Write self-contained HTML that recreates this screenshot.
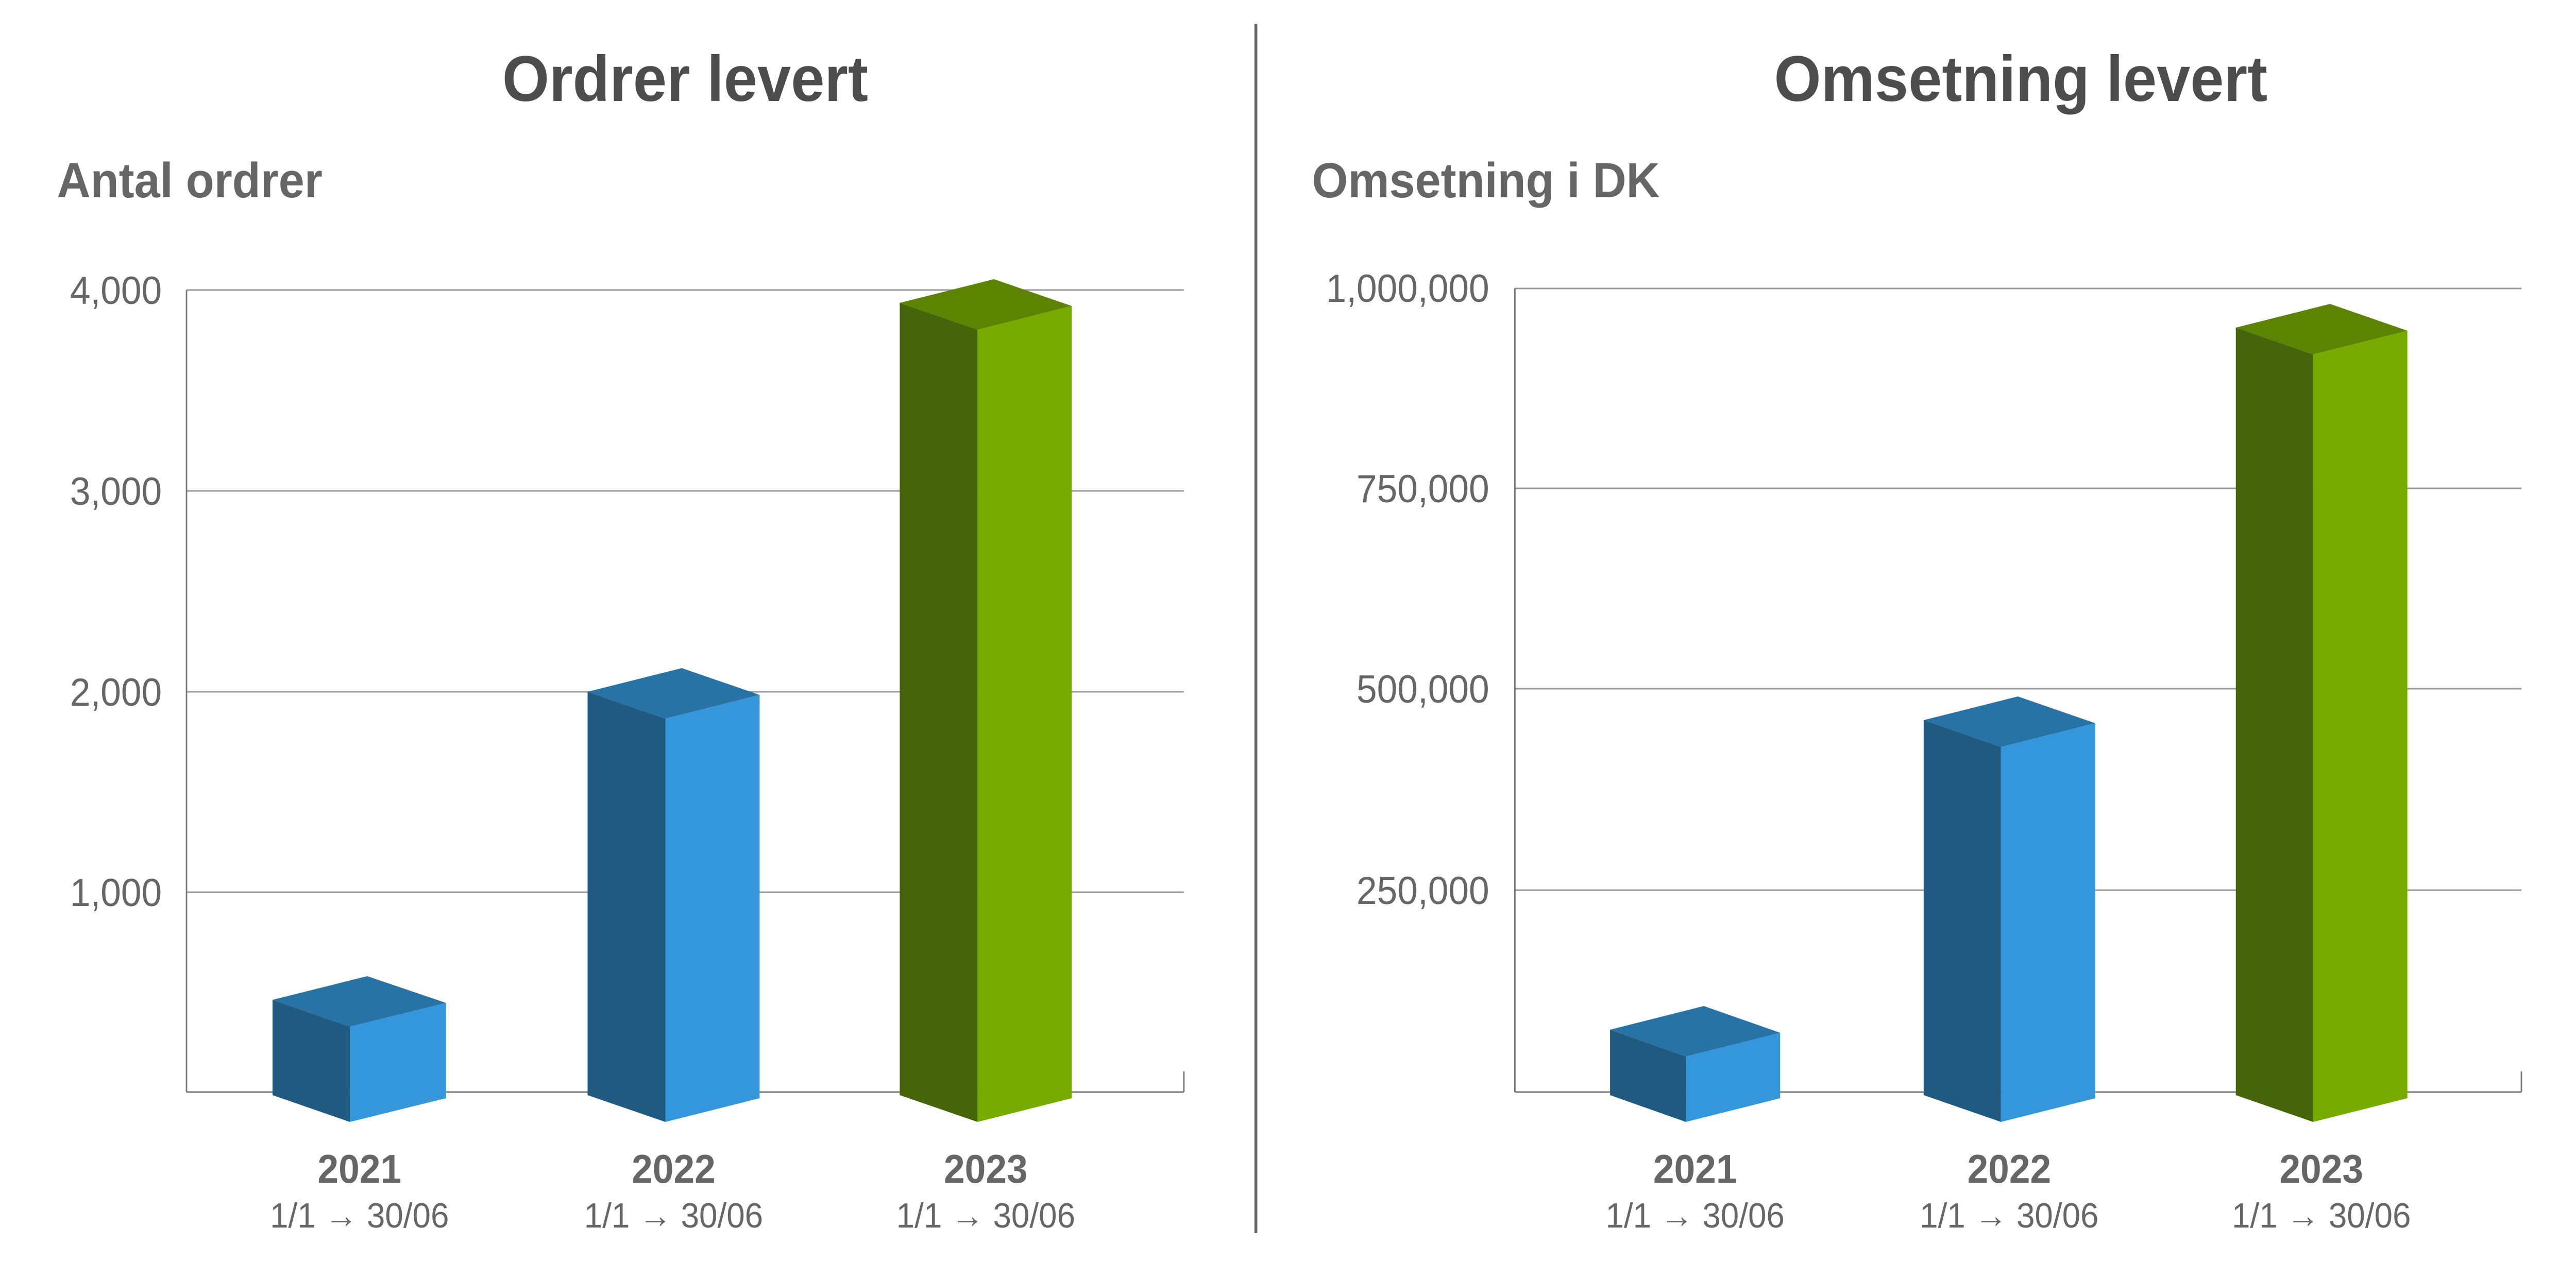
<!DOCTYPE html>
<html><head><meta charset="utf-8"><style>
html,body{margin:0;padding:0;background:#fff;width:100%;height:100%;overflow:hidden;}
svg{display:block;width:100vw;height:100vh;}
text{font-family:"Liberation Sans","DejaVu Sans",sans-serif;fill:#666;}
</style></head><body>
<svg viewBox="0 0 5331 2481" preserveAspectRatio="none" xmlns="http://www.w3.org/2000/svg">
<rect x="2596" y="46" width="6" height="2348" fill="#666"/>

<text x="1418" y="196" font-size="125" font-weight="bold" text-anchor="middle" style="fill:#4d4d4d">Ordrer levert</text>
<text x="4182" y="196" font-size="125" font-weight="bold" text-anchor="middle" style="fill:#4d4d4d">Omsetning levert</text>
<text x="118" y="383" font-size="96" font-weight="bold">Antal ordrer</text>
<text x="2715" y="383" font-size="96" font-weight="bold">Omsetning i DK</text>

<g stroke="#999" stroke-width="3">
<line x1="386" y1="563" x2="2450" y2="563"/>
<line x1="386" y1="953" x2="2450" y2="953"/>
<line x1="386" y1="1343" x2="2450" y2="1343"/>
<line x1="386" y1="1732" x2="2450" y2="1732"/>
<line x1="386" y1="2120" x2="2450" y2="2120" stroke="#777"/>
<line x1="386" y1="563" x2="386" y2="2120" stroke="#777"/>
<line x1="2450" y1="2080" x2="2450" y2="2120" stroke="#777"/>
<line x1="3135" y1="560" x2="5218" y2="560"/>
<line x1="3135" y1="948" x2="5218" y2="948"/>
<line x1="3135" y1="1337" x2="5218" y2="1337"/>
<line x1="3135" y1="1728" x2="5218" y2="1728"/>
<line x1="3135" y1="2120" x2="5218" y2="2120" stroke="#777"/>
<line x1="3135" y1="560" x2="3135" y2="2120" stroke="#777"/>
<line x1="5218" y1="2080" x2="5218" y2="2120" stroke="#777"/>
</g>

<g font-size="76" text-anchor="end">
<text x="335" y="590">4,000</text>
<text x="335" y="980">3,000</text>
<text x="335" y="1370">2,000</text>
<text x="335" y="1759">1,000</text>
<text x="3082" y="586">1,000,000</text>
<text x="3082" y="975">750,000</text>
<text x="3082" y="1364">500,000</text>
<text x="3082" y="1755">250,000</text>
</g>

<polygon points="564,1941 724,1993 724,2178 564,2126" fill="#215a80"/>
<polygon points="724,1993 923,1947 923,2132 724,2178" fill="#3597db"/>
<polygon points="564,1941 760,1895 923,1947 724,1993" fill="#2873a6"/>
<polygon points="1216,1343 1377,1395 1377,2178 1216,2126" fill="#215a80"/>
<polygon points="1377,1395 1572,1349 1572,2132 1377,2178" fill="#3597db"/>
<polygon points="1216,1343 1411,1297 1572,1349 1377,1395" fill="#2873a6"/>
<polygon points="1862,588 2023,640 2023,2178 1862,2126" fill="#466409"/>
<polygon points="2023,640 2218,594 2218,2132 2023,2178" fill="#78ab00"/>
<polygon points="1862,588 2057,542 2218,594 2023,640" fill="#5c8400"/>
<polygon points="3332,1999 3489,2051 3489,2178 3332,2126" fill="#215a80"/>
<polygon points="3489,2051 3684,2005 3684,2132 3489,2178" fill="#3597db"/>
<polygon points="3332,1999 3526,1953 3684,2005 3489,2051" fill="#2873a6"/>
<polygon points="3981,1398 4141,1450 4141,2178 3981,2126" fill="#215a80"/>
<polygon points="4141,1450 4336,1404 4336,2132 4141,2178" fill="#3597db"/>
<polygon points="3981,1398 4176,1352 4336,1404 4141,1450" fill="#2873a6"/>
<polygon points="4627,636 4787,688 4787,2178 4627,2126" fill="#466409"/>
<polygon points="4787,688 4982,642 4982,2132 4787,2178" fill="#78ab00"/>
<polygon points="4627,636 4822,590 4982,642 4787,688" fill="#5c8400"/>

<g text-anchor="middle">
<g font-size="78" font-weight="bold">
<text x="744" y="2296">2021</text>
<text x="1394" y="2296">2022</text>
<text x="2040" y="2296">2023</text>
<text x="3508" y="2296">2021</text>
<text x="4158" y="2296">2022</text>
<text x="4804" y="2296">2023</text>
</g>
<g font-size="68">
<text x="744" y="2383">1/1 → 30/06</text>
<text x="1394" y="2383">1/1 → 30/06</text>
<text x="2040" y="2383">1/1 → 30/06</text>
<text x="3508" y="2383">1/1 → 30/06</text>
<text x="4158" y="2383">1/1 → 30/06</text>
<text x="4804" y="2383">1/1 → 30/06</text>
</g>
</g>
</svg>
</body></html>
